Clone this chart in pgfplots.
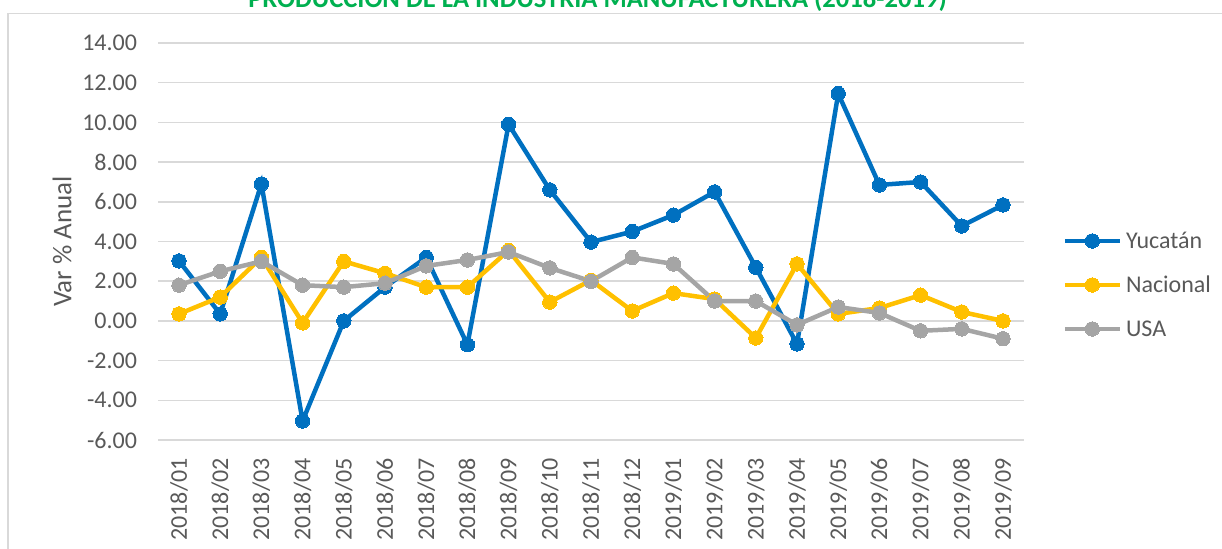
\documentclass[border=0pt]{standalone}
\usepackage{fontspec}
\setmainfont{Carlito}
\usepackage{pgfplots}
\pgfplotsset{compat=1.18}
\definecolor{yuc}{HTML}{0070C0}
\definecolor{nac}{HTML}{FFC000}
\definecolor{usa}{HTML}{A5A5A5}
\definecolor{txt}{HTML}{595959}
\definecolor{grd}{HTML}{D9D9D9}
\definecolor{ttl}{HTML}{00B050}
\begin{document}
\begin{tikzpicture}[x=1pt,y=1pt]
\useasboundingbox (0,0) rectangle (611,274);
\begin{scope}
\clip (0,0) rectangle (611,274);
\node[anchor=base, text=ttl, font=\fontsize{13.3}{15}\selectfont\bfseries, inner sep=0pt] at (298.75,270) {PRODUCCIÓN DE LA INDUSTRIA MANUFACTURERA (2018-2019)};
\draw[grd, line width=0.75pt] (4,-2) -- (4,267.25) -- (615,267.25);
\end{scope}
\begin{axis}[
  at={(79.2pt,54pt)}, anchor=south west,
  scale only axis, width=432.6pt, height=198.5pt,
  xmin=-0.5, xmax=20.5, ymin=-6, ymax=14,
  axis line style={draw=none},
  tick style={draw=none},
  ymajorgrids, grid style={grd, line width=0.75pt},
  ytick={-6,-4,...,14},
  yticklabels={{-6.00},{-4.00},{-2.00},{0.00},{2.00},{4.00},{6.00},{8.00},{10.00},{12.00},{14.00}},
  xtick={0,...,20},
  xticklabels={2018/01,2018/02,2018/03,2018/04,2018/05,2018/06,2018/07,2018/08,2018/09,2018/10,2018/11,2018/12,2019/01,2019/02,2019/03,2019/04,2019/05,2019/06,2019/07,2019/08,2019/09},
  tick label style={font=\fontsize{12}{14}\selectfont, text=txt},
  yticklabel style={inner sep=0pt, anchor=east, xshift=-10.5pt},
  xticklabel style={inner sep=0pt, yshift=-9pt, rotate=90, anchor=east},
  ylabel={Var \% Anual},
  ylabel style={font=\fontsize{13.5}{15}\selectfont, text=txt, at={(axis description cs:-0.1114,0.5)}, anchor=center},
  legend style={draw=none, fill=none, inner sep=0pt, at={(axis description cs:1.0445,0.388)}, anchor=west,
    font=\fontsize{12}{14}\selectfont, text=txt, row sep=10.5pt,
    nodes={inner sep=0pt, text height=9pt, text depth=2.5pt}},
  legend cell align=left,
  legend image code/.code={\draw[mark repeat=2, mark phase=2] plot coordinates {(0pt,0.5pt) (13.75pt,0.5pt) (27.5pt,0.5pt)};},
  every axis plot/.append style={line width=2.25pt, mark=*, mark size=3.6pt},
]
\addplot[yuc, mark options={fill=yuc, draw=yuc, line width=0pt}] coordinates {
(0,3.02) (1,0.35) (2,6.90) (3,-5.04) (4,0.0) (5,1.70) (6,3.20) (7,-1.20) (8,9.90) (9,6.60) (10,3.97) (11,4.50)
(12,5.33) (13,6.50) (14,2.70) (15,-1.16) (16,11.45) (17,6.85) (18,7.00) (19,4.78) (20,5.84)};
\addlegendentry{\hspace{2pt}Yucatán}
\addplot[nac, mark options={fill=nac, draw=nac, line width=0pt}] coordinates {
(0,0.35) (1,1.20) (2,3.20) (3,-0.10) (4,3.00) (5,2.40) (6,1.70) (7,1.70) (8,3.55) (9,0.95) (10,2.05) (11,0.50)
(12,1.40) (13,1.10) (14,-0.86) (15,2.87) (16,0.35) (17,0.65) (18,1.30) (19,0.45) (20,0.00)};
\addlegendentry{\hspace{2pt}Nacional}
\addplot[usa, mark options={fill=usa, draw=usa, line width=0pt}] coordinates {
(0,1.80) (1,2.50) (2,3.00) (3,1.80) (4,1.70) (5,1.90) (6,2.77) (7,3.07) (8,3.47) (9,2.67) (10,2.00) (11,3.20)
(12,2.87) (13,1.00) (14,1.00) (15,-0.20) (16,0.70) (17,0.40) (18,-0.50) (19,-0.40) (20,-0.90)};
\addlegendentry{\hspace{2pt}USA}
\end{axis}
\end{tikzpicture}
\end{document}
